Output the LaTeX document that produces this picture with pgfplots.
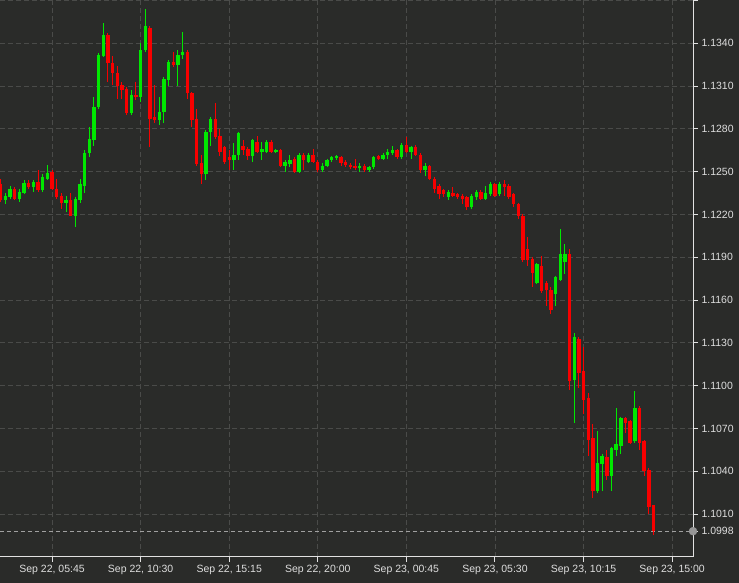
\documentclass[border=0pt]{standalone}
\usepackage{pgfplots}
\pgfplotsset{compat=1.18}
\usepackage{pgfplotstable}
\usepackage{fontspec}
\setmainfont{Liberation Sans}

\definecolor{bgc}{RGB}{42,43,41}
\definecolor{gridc}{RGB}{74,75,73}
\definecolor{axc}{RGB}{225,225,225}
\definecolor{txtc}{RGB}{222,222,222}
\definecolor{upc}{RGB}{0,232,0}
\definecolor{dnc}{RGB}{248,0,0}
\definecolor{lastc}{RGB}{150,150,150}

% 15-minute candles, t = hours from Sep 22 00:00
\pgfplotstableread{
t o h l c
3.00 1.1241 1.1245 1.1229 1.1230
3.25 1.1230 1.1235 1.1227 1.1233
3.50 1.1232 1.1240 1.1231 1.1238
3.75 1.1238 1.1239 1.1230 1.1231
4.00 1.1231 1.1238 1.1229 1.1236
4.25 1.1235 1.1244 1.1234 1.1242
4.50 1.1242 1.1244 1.1238 1.1239
4.75 1.1239 1.1244 1.1236 1.1243
5.00 1.1243 1.1251 1.1236 1.1237
5.25 1.1237 1.1248 1.1236 1.1246
5.50 1.1245 1.1255 1.1244 1.1249
5.75 1.1250 1.1251 1.1237 1.1238
6.00 1.1238 1.1245 1.1231 1.1232
6.25 1.1233 1.1235 1.1224 1.1228
6.50 1.1228 1.1233 1.1222 1.1230
6.75 1.1230 1.1235 1.1219 1.1219
7.00 1.1219 1.1232 1.1211 1.1231
7.25 1.1230 1.1245 1.1228 1.1241
7.50 1.1240 1.1265 1.1235 1.1263
7.75 1.1263 1.1281 1.1260 1.1273
8.00 1.1272 1.1302 1.1268 1.1295
8.25 1.1295 1.1333 1.1294 1.1332
8.50 1.1331 1.1354 1.1330 1.1346
8.75 1.1346 1.1347 1.1313 1.1326
9.00 1.1326 1.1331 1.1311 1.1319
9.25 1.1319 1.1324 1.1301 1.1310
9.50 1.1311 1.1313 1.1301 1.1307
9.75 1.1308 1.1309 1.1290 1.1291
10.00 1.1291 1.1307 1.1290 1.1304
10.25 1.1304 1.1313 1.1300 1.1302
10.50 1.1302 1.1340 1.1299 1.1335
10.75 1.1335 1.1364 1.1334 1.1352
11.00 1.1351 1.1352 1.1267 1.1287
11.25 1.1288 1.1311 1.1284 1.1286
11.50 1.1286 1.1302 1.1283 1.1292
11.75 1.1292 1.1316 1.1284 1.1315
12.00 1.1314 1.1328 1.1310 1.1327
12.25 1.1327 1.1334 1.1323 1.1325
12.50 1.1325 1.1335 1.1310 1.1332
12.75 1.1332 1.1348 1.1329 1.1334
13.00 1.1334 1.1335 1.1301 1.1305
13.25 1.1305 1.1306 1.1281 1.1286
13.50 1.1287 1.1294 1.1254 1.1255
13.75 1.1256 1.1262 1.1241 1.1248
14.00 1.1248 1.1279 1.1244 1.1278
14.25 1.1278 1.1288 1.1268 1.1287
14.50 1.1287 1.1298 1.1273 1.1274
14.75 1.1275 1.1280 1.1261 1.1264
15.00 1.1267 1.1268 1.1255 1.1257
15.25 1.1260 1.1265 1.1251 1.1258
15.50 1.1258 1.1270 1.1251 1.1262
15.75 1.1262 1.1278 1.1258 1.1277
16.00 1.1268 1.1272 1.1262 1.1265
16.25 1.1266 1.1267 1.1258 1.1261
16.50 1.1261 1.1273 1.1257 1.1272
16.75 1.1271 1.1275 1.1263 1.1264
17.00 1.1264 1.1271 1.1258 1.1266
17.25 1.1264 1.1272 1.1263 1.1271
17.50 1.1271 1.1272 1.1263 1.1264
17.75 1.1264 1.1266 1.1263 1.1265
18.00 1.1265 1.1266 1.1253 1.1254
18.25 1.1254 1.1258 1.1250 1.1257
18.50 1.1255 1.1262 1.1253 1.1258
18.75 1.1259 1.1260 1.1249 1.1250
19.00 1.1250 1.1263 1.1249 1.1262
19.25 1.1262 1.1263 1.1251 1.1258
19.50 1.1257 1.1263 1.1256 1.1262
19.75 1.1262 1.1266 1.1256 1.1257
20.00 1.1257 1.1258 1.1250 1.1251
20.25 1.1251 1.1256 1.1250 1.1254
20.50 1.1254 1.1259 1.1253 1.1258
20.75 1.1258 1.1261 1.1257 1.1260
21.00 1.1260 1.1262 1.1258 1.1261
21.25 1.1260 1.1261 1.1254 1.1256
21.50 1.1257 1.1258 1.1253 1.1255
21.75 1.1255 1.1256 1.1252 1.1253
22.00 1.1254 1.1259 1.1251 1.1253
22.25 1.1253 1.1256 1.1250 1.1254
22.50 1.1254 1.1255 1.1250 1.1251
22.75 1.1251 1.1254 1.1250 1.1253
23.00 1.1253 1.1261 1.1252 1.1260
23.25 1.1261 1.1262 1.1258 1.1259
23.50 1.1259 1.1263 1.1258 1.1262
23.75 1.1262 1.1266 1.1259 1.1264
24.00 1.1263 1.1268 1.1262 1.1265
24.25 1.1265 1.1266 1.1259 1.1260
24.50 1.1260 1.1270 1.1259 1.1269
24.75 1.1269 1.1274 1.1263 1.1264
25.00 1.1264 1.1268 1.1259 1.1267
25.25 1.1267 1.1269 1.1261 1.1262
25.50 1.1262 1.1263 1.1249 1.1251
25.75 1.1251 1.1256 1.1247 1.1254
26.00 1.1254 1.1255 1.1244 1.1245
26.25 1.1245 1.1246 1.1235 1.1238
26.50 1.1240 1.1241 1.1231 1.1234
26.75 1.1237 1.1238 1.1232 1.1234
27.00 1.1232 1.1237 1.1230 1.1236
27.25 1.1235 1.1239 1.1232 1.1233
27.50 1.1234 1.1235 1.1231 1.1232
27.75 1.1233 1.1234 1.1227 1.1231
28.00 1.1232 1.1233 1.1223 1.1225
28.25 1.1225 1.1234 1.1224 1.1233
28.50 1.1232 1.1237 1.1230 1.1236
28.75 1.1236 1.1237 1.1230 1.1231
29.00 1.1231 1.1240 1.1230 1.1235
29.25 1.1234 1.1243 1.1233 1.1241
29.50 1.1241 1.1242 1.1232 1.1233
29.75 1.1234 1.1243 1.1233 1.1241
30.00 1.1241 1.1244 1.1233 1.1239
30.25 1.1240 1.1241 1.1231 1.1232
30.50 1.1234 1.1235 1.1225 1.1227
30.75 1.1227 1.1228 1.1217 1.1219
31.00 1.1219 1.1220 1.1187 1.1188
31.25 1.1196 1.1204 1.1184 1.1188
31.50 1.1189 1.1190 1.1169 1.1179
31.75 1.1172 1.1186 1.1171 1.1185
32.00 1.1184 1.1191 1.1165 1.1166
32.25 1.1172 1.1173 1.1156 1.1167
32.50 1.1167 1.1169 1.1150 1.1153
32.75 1.1164 1.1177 1.1156 1.1176
33.00 1.1174 1.1210 1.1173 1.1192
33.25 1.1187 1.1199 1.1178 1.1192
33.50 1.1192 1.1196 1.1097 1.1103
33.75 1.1104 1.1137 1.1074 1.1134
34.00 1.1133 1.1134 1.1098 1.1109
34.25 1.1110 1.1127 1.1080 1.1090
34.50 1.1091 1.1095 1.1051 1.1062
34.75 1.1063 1.1073 1.1021 1.1026
35.00 1.1026 1.1068 1.1025 1.1046
35.25 1.1045 1.1052 1.1026 1.1051
35.50 1.1050 1.1055 1.1034 1.1037
35.75 1.1037 1.1057 1.1026 1.1056
36.00 1.1055 1.1084 1.1051 1.1059
36.25 1.1058 1.1078 1.1052 1.1077
36.50 1.1077 1.1078 1.1067 1.1074
36.75 1.1075 1.1076 1.1059 1.1060
37.00 1.1061 1.1096 1.1060 1.1084
37.25 1.1084 1.1086 1.1055 1.1060
37.50 1.1061 1.1062 1.1037 1.1040
37.75 1.1041 1.1042 1.1010 1.1015
38.00 1.1016 1.1016 1.0995 1.0998
}\gbp

\pgfplotsset{
  wick/.style={draw=none, mark=none, forget plot,
    error bars/y dir=both, error bars/y explicit, error bars/error mark=none,
    error bars/error bar style={draw=#1, line width=1pt}},
  body/.style={draw=none, mark=none, forget plot,
    error bars/y dir=both, error bars/y explicit, error bars/error mark=none,
    error bars/error bar style={draw=#1, line width=3.4pt}},
}

\begin{document}
\begin{tikzpicture}
\fill[bgc] (0,0) rectangle (739pt,583pt);
\begin{axis}[
  at={(0pt,26pt)}, anchor=south west,
  scale only axis, width=693pt, height=557pt,
  xmin=2.96, xmax=40.12, ymin=1.09799, ymax=1.13703,
  clip=false,
  axis x line*=bottom, axis y line*=right,
  axis line style={-, axc, line width=1pt},
  tick style={axc, line width=1pt}, tick align=outside, major tick length=5pt,
  grid=major, major grid style={gridc, line width=0.8pt, dash pattern=on 5pt off 3pt},
  xtick={5.75,10.5,15.25,20,24.75,29.5,34.25,39},
  xticklabels={{Sep 22, 05:45},{Sep 22, 10:30},{Sep 22, 15:15},{Sep 22, 20:00},
    {Sep 23, 00:45},{Sep 23, 05:30},{Sep 23, 10:15},{Sep 23, 15:00}},
  ytick={1.1010,1.1040,1.1070,1.1100,1.1130,1.1160,1.1190,1.1220,1.1250,1.1280,1.1310,1.1340,1.1370},
  yticklabels={1.1010,1.1040,1.1070,1.1100,1.1130,1.1160,1.1190,1.1220,1.1250,1.1280,1.1310,1.1340,{}},
  extra y ticks={1.0998}, extra y tick labels={1.0998},
  extra y tick style={major grid style={lastc!90!white, line width=0.8pt, dash pattern=on 4pt off 3pt}},
  ticklabel style={txtc, font=\fontsize{10.5}{12}\selectfont},
]
% wicks
\addplot[wick=upc] table[x=t,
  y expr={\thisrow{c}>\thisrow{o} ? 0.5*(\thisrow{h}+\thisrow{l}) : nan},
  y error expr={0.5*(\thisrow{h}-\thisrow{l})}] {\gbp};
\addplot[wick=dnc] table[x=t,
  y expr={\thisrow{c}<\thisrow{o} ? 0.5*(\thisrow{h}+\thisrow{l}) : nan},
  y error expr={0.5*(\thisrow{h}-\thisrow{l})}] {\gbp};
% bodies
\addplot[body=upc] table[x=t,
  y expr={\thisrow{c}>\thisrow{o} ? 0.5*(\thisrow{o}+\thisrow{c}) : nan},
  y error expr={max(0.5*abs(\thisrow{c}-\thisrow{o}),0.00003)}] {\gbp};
\addplot[body=dnc] table[x=t,
  y expr={\thisrow{c}<\thisrow{o} ? 0.5*(\thisrow{o}+\thisrow{c}) : nan},
  y error expr={max(0.5*abs(\thisrow{c}-\thisrow{o}),0.00003)}] {\gbp};
% last price marker
\addplot[only marks, mark=*, mark size=4pt, color=lastc, forget plot]
  coordinates {(40.12,1.0998)};
\end{axis}
\pgfresetboundingbox
\path[use as bounding box] (0,0) rectangle (739pt,583pt);
\end{tikzpicture}
\end{document}
